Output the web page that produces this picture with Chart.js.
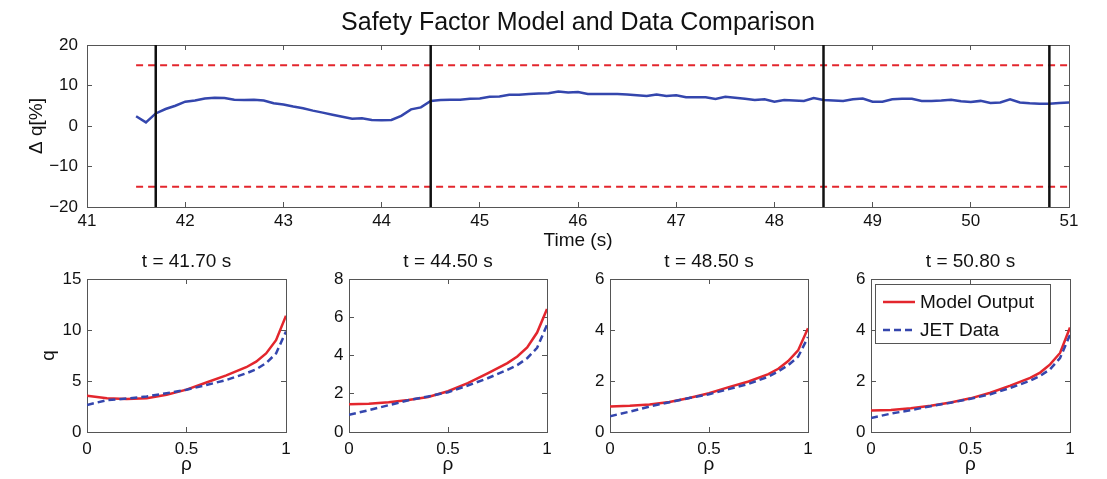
<!DOCTYPE html>
<html>
<head>
<meta charset="utf-8">
<script src="https://cdn.jsdelivr.net/npm/chart.js@4.4.1/dist/chart.umd.min.js"></script>
<style>
html,body{margin:0;padding:0;background:#fff;}
#wrap{position:relative;width:1107px;height:479px;overflow:hidden;background:#fff;}
canvas{position:absolute;}
</style>
</head>
<body>
<div id="wrap">
<canvas id="topChart" width="1107" height="260" style="left:0;top:0"></canvas>
<canvas id="p0"></canvas>
<canvas id="p1"></canvas>
<canvas id="p2"></canvas>
<canvas id="p3"></canvas>
</div>
<script>
// ---------------- DATA ----------------
const mainTitle = 'Safety Factor Model and Data Comparison';
const timeS = [41.5,41.6,41.7,41.8,41.9,42.0,42.1,42.2,42.3,42.4,42.5,42.6,42.7,42.8,42.9,
  43.0,43.1,43.2,43.3,43.4,43.5,43.6,43.7,43.8,43.9,44.0,44.1,44.2,44.3,44.4,44.5,44.6,44.7,44.8,44.9,
  45.0,45.1,45.2,45.3,45.4,45.5,45.6,45.7,45.8,45.9,46.0,46.1,46.2,46.3,46.4,46.5,46.6,46.7,46.8,46.9,
  47.0,47.1,47.2,47.3,47.4,47.5,47.6,47.7,47.8,47.9,48.0,48.1,48.2,48.3,48.4,48.5,48.6,48.7,48.8,48.9,
  49.0,49.1,49.2,49.3,49.4,49.5,49.6,49.7,49.8,49.9,50.0,50.1,50.2,50.3,50.4,50.5,50.6,50.7,50.8,50.9,51.0];
const deltaQ = [2.4,0.9,3.1,4.2,5.0,6.0,6.3,6.8,7.0,6.9,6.5,6.4,6.5,6.3,5.6,
  5.3,4.8,4.4,3.8,3.3,2.8,2.3,1.8,1.9,1.5,1.4,1.5,2.5,4.1,4.6,6.2,6.4,6.5,6.5,6.7,
  6.8,7.2,7.3,7.7,7.7,7.9,8.0,8.1,8.5,8.3,8.4,7.9,7.9,7.9,7.9,7.8,7.6,7.4,7.8,7.4,
  7.6,7.1,7.1,7.1,6.7,7.2,7.0,6.7,6.4,6.6,6.0,6.4,6.3,6.2,6.9,6.4,6.3,6.2,6.6,6.8,
  6.0,6.0,6.6,6.7,6.7,6.2,6.2,6.3,6.5,6.1,5.9,6.2,5.7,5.8,6.6,5.8,5.6,5.5,5.5,5.7,5.8];
const qLimit = 15;
const snapshotTimes = [41.7, 44.5, 48.5, 50.8];
const topX = {min: 41, max: 51, step: 1};
const topY = {min: -20, max: 20, step: 10};

const rho = [0, 0.1, 0.2, 0.3, 0.4, 0.5, 0.6, 0.7, 0.8, 0.85, 0.9, 0.95, 1.0];
const model0 = [3.55,3.30,3.24,3.30,3.65,4.15,4.85,5.55,6.35,6.90,7.70,9.00,11.40];
const jet0   = [2.65,3.12,3.28,3.48,3.80,4.15,4.60,5.10,5.75,6.15,6.75,7.70,9.85];
const model1 = [1.45,1.48,1.56,1.67,1.83,2.13,2.55,3.07,3.60,3.95,4.42,5.20,6.43];
const jet1   = [0.90,1.14,1.40,1.66,1.86,2.08,2.43,2.81,3.25,3.50,3.86,4.40,5.60];
const model2 = [1.00,1.03,1.08,1.18,1.33,1.52,1.76,1.98,2.27,2.48,2.78,3.20,4.07];
const jet2   = [0.62,0.80,1.00,1.17,1.33,1.48,1.68,1.89,2.17,2.38,2.62,2.95,3.72];
const model3 = [0.84,0.86,0.93,1.03,1.16,1.32,1.54,1.82,2.12,2.33,2.65,3.10,4.10];
const jet3   = [0.55,0.72,0.86,1.01,1.15,1.30,1.48,1.73,2.01,2.20,2.46,2.90,3.81];
const modelProfiles = [model0, model1, model2, model3];
const jetProfiles = [jet0, jet1, jet2, jet3];
const profileYMax = [15, 8, 6, 6];
const profileYStep = [5, 2, 2, 2];
const seriesLabels = ['Model Output', 'JET Data'];

// ---------------- STYLE ----------------
Chart.defaults.font.family = "'Liberation Sans', Arial, Helvetica, sans-serif";
Chart.defaults.color = '#111';
Chart.defaults.animation = false;
const AX = '#555';
const RED = '#e3262d';
const BLUE = '#3446ad';
const BLACK = '#111';
const fmt = v => String(v).replace('-', '\u2212');

function mainAxis(pos, r, size, tickPad, title, titlePad) {
  return {
    type: 'linear', position: pos, min: r.min, max: r.max,
    afterFit: s => { if (s.isHorizontal()) s.height = size; else s.width = size; },
    border: {display: true, color: AX, width: 1},
    grid: {drawOnChartArea: false, drawTicks: true, tickLength: -5, color: AX, lineWidth: 1},
    ticks: {stepSize: r.step, padding: tickPad, color: '#111', font: {size: 17}, callback: fmt,
            maxRotation: 0, autoSkip: false},
    title: title ? {display: true, text: title, color: '#111', font: {size: 19}, padding: titlePad}
                 : {display: false}
  };
}
function mirrorAxis(pos, r) {
  return {
    type: 'linear', position: pos, min: r.min, max: r.max,
    afterFit: s => { if (s.isHorizontal()) s.height = 0; else s.width = 0; },
    border: {display: true, color: AX, width: 1},
    grid: {drawOnChartArea: false, drawTicks: true, tickLength: -5, color: AX, lineWidth: 1},
    ticks: {display: false, stepSize: r.step}
  };
}

// ---------------- TOP CHART ----------------
const topDatasets = [{
  data: timeS.map((t, i) => ({x: t, y: deltaQ[i]})),
  borderColor: BLUE, borderWidth: 2.5, pointRadius: 0, order: 3
}, {
  data: [{x: timeS[0], y: qLimit}, {x: timeS[timeS.length - 1], y: qLimit}],
  borderColor: RED, borderWidth: 2, borderDash: [7, 5], pointRadius: 0, order: 2
}, {
  data: [{x: timeS[0], y: -qLimit}, {x: timeS[timeS.length - 1], y: -qLimit}],
  borderColor: RED, borderWidth: 2, borderDash: [7, 5], pointRadius: 0, order: 2
}];
snapshotTimes.forEach(t => topDatasets.push({
  data: [{x: t, y: topY.min}, {x: t, y: topY.max}],
  borderColor: BLACK, borderWidth: 2.5, pointRadius: 0, order: 1
}));

new Chart(document.getElementById('topChart'), {
  type: 'line',
  data: {datasets: topDatasets},
  options: {
    responsive: false, maintainAspectRatio: false,
    layout: {padding: {left: 0, right: 38, top: 0, bottom: 0}},
    plugins: {
      legend: {display: false}, tooltip: {enabled: false},
      title: {display: true, text: mainTitle, fullSize: false, color: '#111',
              font: {size: 25, weight: 'normal'}, padding: {top: 8, bottom: 7}}
    },
    scales: {
      x: mainAxis('bottom', topX, 53, 8.8, 'Time (s)', {top: 0, bottom: 7.6}),
      y: mainAxis('left', topY, 87, 14, '\u0394 q[%]', {top: 25.6, bottom: 0}),
      x2: mirrorAxis('top', topX),
      y2: mirrorAxis('right', topY)
    }
  }
});

// ---------------- PROFILE CHARTS ----------------
const legendBox = {
  id: 'legendBox',
  afterDraw(chart, args, opts) {
    if (!opts || !opts.show) return;
    const {ctx, chartArea} = chart;
    const x = chartArea.left + 4, y = chartArea.top + 5, w = 175, h = 59;
    ctx.save();
    ctx.fillStyle = '#fff';
    ctx.fillRect(x, y, w, h);
    ctx.strokeStyle = AX; ctx.lineWidth = 1;
    ctx.strokeRect(x + 0.5, y + 0.5, w, h);
    chart.data.datasets.slice().sort((a, b) => a.legendIndex - b.legendIndex).forEach((ds, i) => {
      const ly = y + 18 + i * 28;
      ctx.beginPath();
      ctx.setLineDash(ds.borderDash || []);
      ctx.strokeStyle = ds.borderColor; ctx.lineWidth = ds.borderWidth;
      ctx.moveTo(x + 8, ly); ctx.lineTo(x + 40, ly);
      ctx.stroke();
      ctx.setLineDash([]);
      ctx.fillStyle = '#111';
      ctx.font = "19px 'Liberation Sans', Arial, sans-serif";
      ctx.textBaseline = 'middle'; ctx.textAlign = 'left';
      ctx.fillText(ds.label, x + 45, ly + 1);
    });
    ctx.restore();
  }
};

const areaLeft = [87, 349, 610, 871];
const areaWidth = [199, 198, 198, 199];
const profX = {min: 0, max: 1, step: 0.5};

snapshotTimes.forEach((t, i) => {
  const cv = document.getElementById('p' + i);
  const W = areaWidth[i] + 87 + 30;
  cv.width = W; cv.height = 229;
  cv.style.left = (areaLeft[i] - 87) + 'px';
  cv.style.top = '250px';
  const yR = {min: 0, max: profileYMax[i], step: profileYStep[i]};
  new Chart(cv, {
    type: 'line',
    data: {datasets: [{
      label: seriesLabels[0], legendIndex: 0,
      data: rho.map((r, k) => ({x: r, y: modelProfiles[i][k]})),
      borderColor: RED, borderWidth: 2.5, pointRadius: 0, order: 2
    }, {
      label: seriesLabels[1], legendIndex: 1,
      data: rho.map((r, k) => ({x: r, y: jetProfiles[i][k]})),
      borderColor: BLUE, borderWidth: 2.5, borderDash: [7, 4], pointRadius: 0, order: 1
    }]},
    options: {
      responsive: false, maintainAspectRatio: false,
      layout: {padding: {left: 0, right: 30, top: 0, bottom: 0}},
      plugins: {
        legend: {display: false}, tooltip: {enabled: false},
        title: {display: true, text: 't = ' + t.toFixed(2) + ' s', fullSize: false, color: '#111',
                font: {size: 19, weight: 'normal'}, padding: {top: 0.6, bottom: 5.6}},
        legendBox: {show: i === 3}
      },
      scales: {
        x: mainAxis('bottom', profX, 47, 11.8, '\u03C1', {top: 0, bottom: 3.1}),
        y: mainAxis('left', yR, 87, 10.5, i === 0 ? 'q' : '', {top: 37.6, bottom: 0}),
        x2: mirrorAxis('top', profX),
        y2: mirrorAxis('right', yR)
      }
    },
    plugins: [legendBox]
  });
});
</script>
</body>
</html>
